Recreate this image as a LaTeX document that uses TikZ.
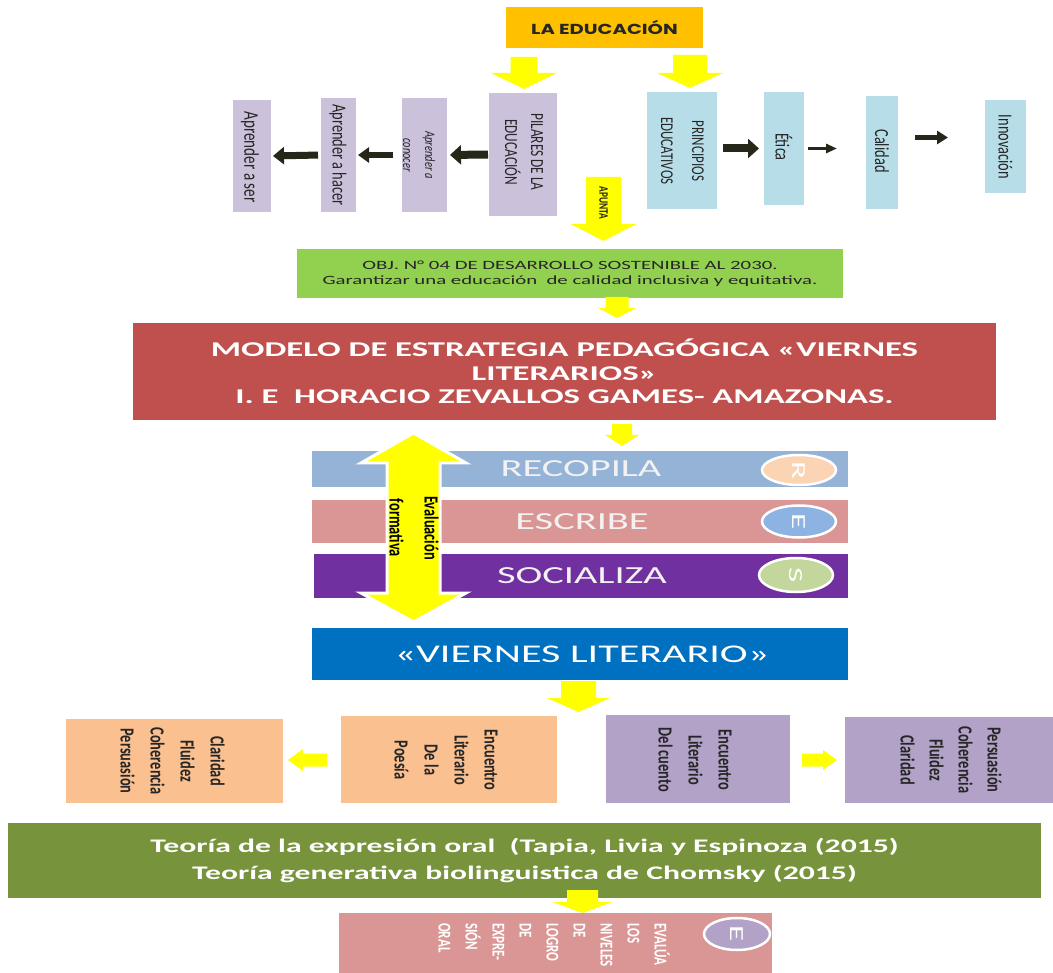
\documentclass[tikz,border=0pt]{standalone}
\usepackage{fontspec}
\setmainfont{Carlito}[FakeStretch=1.65]
\newfontfamily\vf{Carlito}[FakeStretch=0.72]
\newfontfamily\gothic{Poppins}[FakeStretch=1.35]
\usetikzlibrary{arrows.meta,shapes.geometric,calc}
\definecolor{eduorange}{HTML}{FFC000}
\definecolor{lav}{HTML}{CCC1DA}
\definecolor{ltblue}{HTML}{B7DEE8}
\definecolor{yel}{HTML}{FFFF00}
\definecolor{objgreen}{HTML}{92D050}
\definecolor{modred}{HTML}{C0504D}
\definecolor{recblue}{HTML}{95B3D7}
\definecolor{rosy}{HTML}{D99694}
\definecolor{socpurple}{HTML}{7030A0}
\definecolor{vblue}{HTML}{0070C0}
\definecolor{peach}{HTML}{FAC090}
\definecolor{lilac}{HTML}{B3A2C7}
\definecolor{olive}{HTML}{77933C}
\definecolor{circR}{HTML}{FBD4B4}
\definecolor{circE}{HTML}{8DB3E2}
\definecolor{circS}{HTML}{C3D69B}
\definecolor{blkc}{HTML}{262619}
\definecolor{txt}{HTML}{262626}
\newcommand\ydown[6]{\fill[yel] (#1-#5,#2) -- (#1+#5,#2) -- (#1+#5,#3) -- (#1+#6,#3) -- (#1,#4) -- (#1-#6,#3) -- (#1-#5,#3) -- cycle;}
\newcommand\yhoriz[6]{\fill[yel] (#3,#4-#5) -- (#2,#4-#5) -- (#2,#4-#6) -- (#1,#4) -- (#2,#4+#6) -- (#2,#4+#5) -- (#3,#4+#5) -- cycle;}
\begin{document}
\begin{tikzpicture}[x=1pt,y=-1pt,
  box/.style={inner sep=0pt, outer sep=0pt, align=center},
  rot/.style={rotate=-90, align=center, inner sep=0pt, text=txt},
  circ/.style={ellipse, draw=white, line width=2.5pt, inner sep=0pt, rotate=-90, text=white, font=\fontsize{20}{22}\selectfont},
  blk/.style={draw=blkc, -{Triangle[length=11pt,width=#1]}},
]
\useasboundingbox (0,0) rectangle (1053,973);
\fill[white] (0,0) rectangle (1053,973);

% top
\node[box, fill=eduorange, minimum width=197, minimum height=41, text=txt,
  font=\gothic\bfseries\fontsize{14.5}{16}\selectfont] (edu) at (604.5,27.5) {LA EDUCACIÓN};
\ydown{524}{57}{73}{89}{13.5}{33}
\ydown{690}{55}{73}{88}{17}{33}

\node[box, fill=lav, minimum width=68, minimum height=123] (pilares) at (523,154.5) {};
\node[rot, font=\vf\fontsize{18.5}{26}\selectfont] at (524,152) {PILARES DE LA\\EDUCACIÓN};
\node[box, fill=lav, minimum width=45, minimum height=114] (conocer) at (424.5,155) {};
\node[rot, font=\vf\itshape\fontsize{14.5}{22}\selectfont] at (419,155) {Aprender a\\conocer};
\node[box, fill=lav, minimum width=35, minimum height=114] (hacer) at (338.5,155) {};
\node[rot, font=\vf\fontsize{20}{22}\selectfont] at (338,155) {Aprender a hacer};
\node[box, fill=lav, minimum width=38, minimum height=112] (ser) at (252,156) {};
\node[rot, font=\vf\fontsize{21}{22}\selectfont] at (250,157) {Aprender a ser};

\draw[blk=19pt, line width=8pt, shorten <=1pt, shorten >=3pt] (pilares.west) -- (conocer.east);
\draw[blk=15pt, line width=6pt, shorten <=9pt, shorten >=2pt] (conocer.west) -- (hacer.east);
\draw[blk=17pt, line width=7pt, shorten <=3pt, shorten >=2pt] (hacer.west) -- (ser.east);

\node[box, fill=ltblue, minimum width=70, minimum height=117] (principios) at (682,150.5) {};
\node[rot, font=\vf\fontsize{18}{31}\selectfont] at (682.5,151) {PRINCIPIOS\\EDUCATIVOS};
\node[box, fill=ltblue, minimum width=40, minimum height=113] (etica) at (784,148.5) {};
\node[rot, font=\vf\fontsize{20}{22}\selectfont] at (784,147) {Ética};
\node[box, fill=ltblue, minimum width=32, minimum height=113] (calidad) at (882,152.5) {};
\node[rot, font=\vf\fontsize{20}{22}\selectfont] at (882,151) {Calidad};
\node[box, fill=ltblue, minimum width=41, minimum height=93] (innov) at (1005.5,146.5) {};
\node[rot, font=\vf\fontsize{20}{22}\selectfont] at (1005.5,147) {Innovación};

\draw[blk=19pt, line width=8pt, shorten <=6pt, shorten >=5pt] (principios.east |- etica.east) -- (etica.west);
\draw[blk=9pt, line width=3pt, shorten <=4pt, shorten >=29pt] (etica.east) -- (etica.east -| calidad.west);
\draw[blk=13pt, line width=5pt, shorten <=17pt, shorten >=37pt] ($(calidad.east)+(0,-15)$) -- ($(calidad.east -| innov.west)+(0,-15)$);

% APUNTA
\ydown{603.5}{177}{224}{241}{17.5}{33}
\node[rot, font=\vf\bfseries\fontsize{13}{14}\selectfont] (apunta) at (603.5,203) {APUNTA};

\node[box, fill=objgreen, minimum width=546, minimum height=49, text=txt,
  font=\fontsize{12.6}{15}\selectfont] (obj) at (570,273.5)
  {OBJ. N° 04 DE DESARROLLO SOSTENIBLE AL 2030.\\Garantizar una educación\ \ de calidad inclusiva y equitativa.};
\ydown{617}{297}{308}{318}{11.5}{19}

\node[box, fill=modred, minimum width=863, minimum height=97, text=white,
  font=\bfseries\fontsize{21}{23.5}\selectfont] (modelo) at (564.5,371.5)
  {MODELO DE ESTRATEGIA PEDAGÓGICA «VIERNES\\LITERARIOS»\\I. E\ \ HORACIO ZEVALLOS GAMES- AMAZONAS.};
\ydown{622}{424}{435}{446}{10}{17}

% RES bars
\node[box, fill=recblue, minimum width=536, minimum height=36, text=white!95!black,
  font=\fontsize{24.5}{26}\selectfont] (recopila) at (580,469) {\hspace*{2pt}RECOPILA};
\node[box, fill=rosy, minimum width=536, minimum height=43, text=white!95!black,
  font=\fontsize{24.5}{26}\selectfont] (escribe) at (580,521.5) {\hspace*{4pt}ESCRIBE};
\node[box, fill=socpurple, minimum width=534, minimum height=44, text=white!95!black,
  font=\fontsize{24.5}{26}\selectfont] (socializa) at (581,576) {\hspace*{2pt}SOCIALIZA};
\node[circ, fill=circR, minimum width=30, minimum height=74] (cR) at (799,470) {R};
\node[circ, fill=circE, minimum width=32, minimum height=74] (cE) at (799,521.5) {E};
\node[circ, fill=circS, minimum width=34, minimum height=74] (cS) at (796,575) {S};

% double arrow
\filldraw[fill=yel, draw=white, line width=3pt, line join=miter]
  (413.5,433) -- (466,463) -- (440,463) -- (440,593) -- (466,593) -- (413.5,622)
  -- (361,593) -- (387,593) -- (387,463) -- (361,463) -- cycle;
\node[rot, text=black, font=\vf\bfseries\fontsize{20}{35}\selectfont] (evalf) at (414,528) {Evaluación\\formativa};

\node[box, fill=vblue, minimum width=536, minimum height=52, text=white,
  font=\fontsize{25.5}{28}\selectfont] (viernes) at (580,654) {\hspace*{4pt}«VIERNES LITERARIO»};
\ydown{578.5}{681}{698}{712}{17.5}{31.5}

% encuentros
\node[box, fill=peach, minimum width=217, minimum height=84] (clarL) at (174.5,761) {};
\node[rot, font=\vf\bfseries\fontsize{20}{30}\selectfont] at (172.5,761) {Claridad\\Fluidez\\Coherencia\\Persuasión};
\node[box, fill=peach, minimum width=216, minimum height=87] (poesia) at (449,759.5) {};
\node[rot, font=\vf\bfseries\fontsize{20}{30}\selectfont] at (446,760) {Encuentro\\Literario\\De la\\Poesía};
\yhoriz{288}{303}{327}{760}{6.5}{11}
\node[box, fill=lilac, minimum width=184, minimum height=88] (cuento) at (698,759) {};
\node[rot, font=\vf\bfseries\fontsize{20}{30}\selectfont] at (695,760) {Encuentro\\Literario\\Del cuento};
\node[box, fill=lilac, minimum width=208, minimum height=86] (clarR) at (949,760) {};
\node[rot, font=\vf\bfseries\fontsize{20}{29}\selectfont] at (951,760) {Persuasión\\Coherencia\\Fluidez\\Claridad};
\yhoriz{837}{823}{802}{760}{6.5}{10}

\node[box, fill=olive, minimum width=1033, minimum height=75, text=white,
  font=\bfseries\fontsize{19.2}{27}\selectfont] (teoria) at (524.5,860.5)
  {Teoría de la expresión oral\ \ (Tapia, Livia y Espinoza (2015)\\Teoría generativa biolinguistica de Chomsky (2015)};
\ydown{582.5}{890}{902}{913}{15.5}{30}

\node[box, fill=rosy, minimum width=433, minimum height=60] (evalua) at (555.5,943) {};
\node[rot, anchor=north west, align=left, text=white, font=\vf\bfseries\fontsize{18}{27}\selectfont] (evtext) at (670,923)
  {EVALÚA\\LOS\\NIVELES\\DE\\LOGRO\\DE\\EXPRE-\\SIÓN\\ORAL};
\node[circ, fill=lilac, minimum width=32, minimum height=66] (cE2) at (737,934) {E};
\end{tikzpicture}
\end{document}
